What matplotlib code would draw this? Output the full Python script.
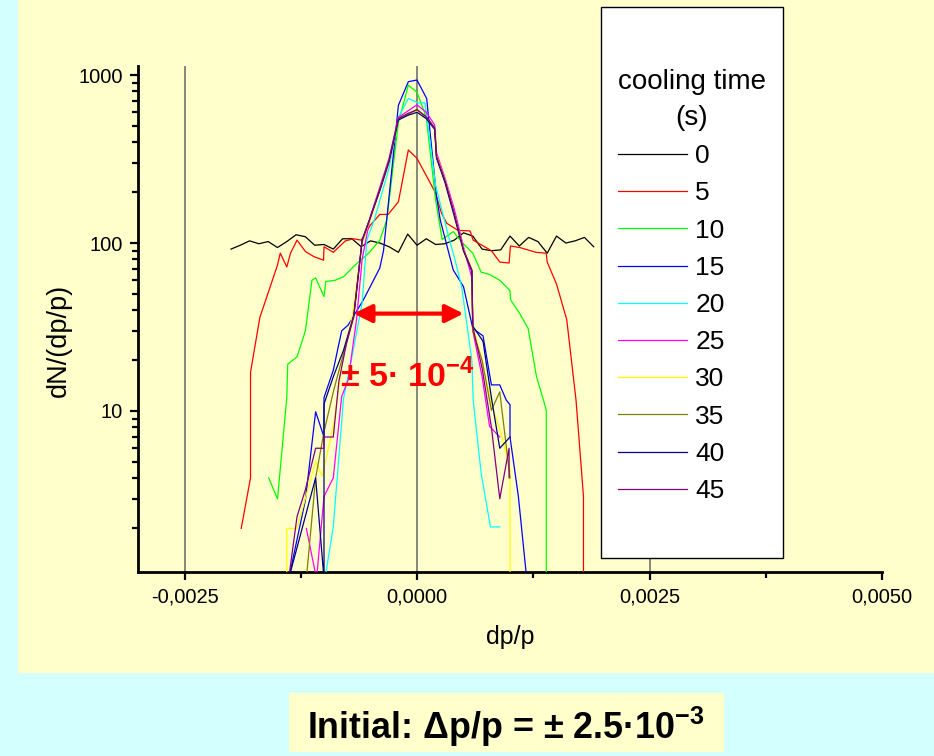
import numpy as np
import matplotlib
matplotlib.use('Agg')
import matplotlib.pyplot as plt
from matplotlib.patches import Rectangle
from matplotlib.ticker import LogLocator, NullFormatter

plt.rcParams['font.family'] = ['Liberation Sans', 'DejaVu Sans']
plt.rcParams['mathtext.fontset'] = 'custom'
plt.rcParams['mathtext.rm'] = 'Liberation Sans'
plt.rcParams['mathtext.bf'] = 'Liberation Sans:bold'

# cooling times (s) and line colours
cooling_times = [0, 5, 10, 15, 20, 25, 30, 35, 40, 45]
line_colors = ['black', '#ff0000', '#00ff00', '#0000ff', '#00ffff',
               '#ff00ff', '#ffff00', '#808000', '#000080', '#800080']

# momentum spread dp/p in units of 1e-4, and dN/(dp/p) for each cooling time
dp_0 = list(range(-20, 20))
dn_0 = [92, 97, 103, 99, 102, 94, 102, 112, 109, 97, 98, 92, 106, 106, 95, 103, 100, 95, 88, 113,
        97, 106, 98, 99, 104, 115, 110, 92, 90, 91, 110, 96, 108, 102, 87, 110, 100, 103, 108, 95]

dp_5 = [-18.9, -17.9, -17.9, -16.9, -15.0, -14.7, -14.0, -13.6, -12.9, -12.0, -11.1, -10.05, -10.0, -9.0,
        -7.7, -6.8, -6.0, -5.0, -4.0, -3.1, -2.0, -0.93, 0.0, 1.93, 2.65, 3.2, 4.4, 5.7, 6.04, 8.0,
        8.9, 9.9, 10.05, 11.05, 12.8, 13.9, 14.0, 15.0, 16.1, 17.1, 17.9, 17.9]
dn_5 = [2.0, 4.0, 17, 36, 74, 87, 72, 87, 104, 89, 83, 79, 95, 88,
        103, 106, 104, 128, 148, 148, 176, 358, 319, 202, 150, 131, 119, 118, 104, 90,
        77, 76, 96, 94, 88, 87, 77, 57, 35, 11.6, 3.1, 1.0]

dp_10 = [-15.95, -15.0, -14.0, -13.9, -12.9, -12.0, -11.3, -10.9, -10.0, -9.8, -8.8, -7.9, -6.65, -5.2,
         -4.0, -3.25, -2.0, -0.93, 0.0, 1.0, 2.0, 2.7, 3.9, 4.9, 6.0, 6.9, 7.8, 8.9, 10.0, 10.05,
         11.05, 11.95, 12.85, 13.6, 13.9, 13.9]
dn_10 = [4.0, 3.0, 12, 19, 21, 30, 60, 62, 48, 59, 60, 63, 74, 87,
         104, 137, 520, 870, 790, 560, 180, 105, 117, 100, 87, 67, 65, 60, 52, 46,
         38, 31, 16, 11.6, 10.1, 1.0]

dp_15 = [-13.8, -12.0, -10.9, -10.0, -10.0, -9.0, -8.1, -7.4, -5.75, -4.0, -3.6, -2.0, -0.93, 0.0,
         1.04, 2.1, 2.5, 3.9, 5.0, 6.0, 7.1, 8.0, 8.9, 9.6, 10.0, 10.0, 10.9, 11.8]
dn_15 = [1.0, 2.95, 9.9, 7.0, 12, 17.5, 30, 32.5, 46, 71, 90, 660, 913, 934,
         725, 190, 137, 69, 55, 31, 28, 14.3, 14.3, 11.6, 10.9, 7.0, 3.1, 1.0]

dp_20 = [-9.9, -9.0, -7.9, -7.2, -5.9, -5.4, -4.6, -3.0, -2.0, -0.93, 0.1, 0.86, 2.0, 3.5,
         4.1, 4.8, 5.9, 6.04, 6.9, 7.9, 8.9]
dn_20 = [1.0, 2.05, 11.9, 18.3, 44, 104, 137, 280, 560, 725, 683, 683, 220, 104,
         79, 55, 20, 11.6, 4.25, 2.04, 2.04]

dp_25 = [-11.9, -10.8, -10.0, -9.0, -8.1, -7.4, -6.5, -5.9, -5.0, -4.0, -3.0, -2.0, -1.0, 0.0,
         1.0, 1.9, 2.1, 3.0, 4.0, 5.0, 5.9, 6.0, 7.0, 7.8, 8.9]
dn_25 = [2.0, 1.0, 3.1, 4.0, 12.2, 15.3, 35, 80, 145, 215, 320, 560, 610, 665,
         600, 505, 345, 245, 160, 95, 62, 30, 16, 8.1, 7.0]

dp_30 = [-14.0, -14.0, -12.9, -10.9, -10.2, -9.0, -8.0, -6.9, -5.9, -5.0, -4.0, -3.0, -2.0, -1.0,
         0.0, 1.0, 1.9, 2.1, 3.0, 4.0, 5.0, 5.9, 6.0, 7.0, 8.0, 9.0, 10.0, 10.0]
dn_30 = [1.0, 2.0, 2.0, 5.0, 4.1, 8.1, 20, 38, 100, 140, 205, 300, 540, 590,
         610, 560, 480, 330, 240, 150, 92, 70, 32, 20, 11, 7.5, 4.5, 1.0]

dp_35 = [-11.9, -10.9, -10.0, -9.0, -7.9, -6.8, -5.9, -5.0, -4.0, -3.0, -2.0, -1.0, 0.0,
         1.0, 1.9, 2.1, 3.0, 4.0, 5.0, 5.9, 6.0, 7.0, 8.0, 8.9, 10.0]
dn_35 = [1.0, 4.0, 7.5, 13, 22, 36, 102, 142, 210, 312, 548, 580, 625,
         560, 485, 325, 235, 150, 90, 69, 30, 20, 10.1, 13.0, 4.0]

dp_40 = [-13.8, -10.9, -10.0, -10.0, -9.0, -7.9, -6.8, -5.9, -5.0, -4.0, -3.0, -2.0, -1.0, 0.0,
         1.0, 1.9, 2.1, 3.0, 4.0, 5.0, 5.9, 6.0, 7.1, 8.0, 8.9, 10.0]
dn_40 = [1.0, 4.0, 1.0, 11, 16, 23, 37, 104, 143, 205, 305, 540, 575, 600,
         550, 475, 320, 230, 145, 90, 68, 32, 26, 12, 6.0, 7.0]

dp_45 = [-13.8, -12.9, -12.0, -10.9, -10.0, -10.0, -9.0, -8.4, -7.6, -6.8, -5.9, -5.0, -4.0, -3.0,
         -2.0, -1.0, 0.0, 1.0, 1.9, 2.1, 3.0, 4.0, 5.0, 5.9, 6.0, 7.0, 8.0, 8.9, 9.9, 9.9]
dn_45 = [1.0, 2.35, 3.4, 6.0, 6.0, 7.0, 7.0, 15, 25, 37, 104, 143, 207, 311,
         551, 590, 621, 565, 484, 326, 237, 150, 91, 69, 31.7, 18, 8.0, 3.0, 6.0, 4.0]

dp_series = [dp_0, dp_5, dp_10, dp_15, dp_20, dp_25, dp_30, dp_35, dp_40, dp_45]
dn_series = [dn_0, dn_5, dn_10, dn_15, dn_20, dn_25, dn_30, dn_35, dn_40, dn_45]

# marked width of the cooled beam
width_left, width_right, width_level = -6.8e-4, 5.0e-4, 38

xtick_pos = [-0.0025, 0.0, 0.0025, 0.005]
xtick_labels = ['-0,0025', '0,0000', '0,0025', '0,0050']
ytick_pos = [10, 100, 1000]
ytick_labels = ['10', '100', '1000']

W, H = 934, 756
fig = plt.figure(figsize=(W / 100, H / 100), dpi=100, facecolor='#d4ffff')

# yellow slide panel
fig.add_artist(Rectangle((18 / W, 1 - 673 / H), 1 - 18 / W, 673 / H, transform=fig.transFigure,
                         facecolor='#ffffcc', edgecolor='none', zorder=-1))

ax = fig.add_axes([138 / W, 1 - 572 / H, 744 / W, 506 / H])
ax.patch.set_visible(False)

for xv in xtick_pos[:3]:
    ax.axvline(xv, color='#666666', lw=1.1, zorder=1)

lines = []
for t, c, dp, dn in zip(cooling_times, line_colors, dp_series, dn_series):
    ln, = ax.plot(np.array(dp) * 1e-4, dn, color=c, lw=0.9, zorder=3)
    lines.append(ln)

ax.set_yscale('log')
ax.set_xlim(-0.003, 0.005)
ax.set_ylim(1.1, 1132)

ax.set_xticks(xtick_pos)
ax.set_xticklabels(xtick_labels)
ax.set_xticks([-0.00125, 0.00125, 0.00375], minor=True)
ax.set_yticks(ytick_pos)
ax.set_yticklabels(ytick_labels)
ax.yaxis.set_minor_locator(LogLocator(base=10, subs=range(2, 10)))
ax.yaxis.set_minor_formatter(NullFormatter())

for side in ['top', 'right']:
    ax.spines[side].set_visible(False)
for side in ['left', 'bottom']:
    ax.spines[side].set_linewidth(2)
ax.tick_params(which='major', direction='out', length=6, width=1.6, labelsize=14.5, pad=5)
ax.tick_params(which='minor', direction='out', length=4, width=1.6)

ax.set_xlabel('dp/p', fontsize=18)
ax.set_ylabel('dN/(dp/p)', fontsize=19.5)
ax.xaxis.set_label_coords(0.5, -0.105)
ax.yaxis.set_label_coords(-0.089, 0.458)

# width arrow and its label
ax.annotate('', xy=(width_left, width_level), xytext=(width_right, width_level),
            arrowprops=dict(arrowstyle='<|-|>,head_length=0.6,head_width=0.3', color='#ff0000',
                            lw=3, mutation_scale=18, shrinkA=0, shrinkB=0), zorder=4)
ax.text(-8.26e-4, 13.9, '± 5· 10$^{\\mathbf{-4}}$', color='#ff0000', fontsize=24.5,
        fontweight='bold', ha='left', va='baseline', zorder=4)

# legend box
fig.add_artist(Rectangle((601 / W, 1 - 558 / H), 182 / W, 551 / H, transform=fig.transFigure,
                         facecolor='white', edgecolor='black', lw=1, zorder=4))
leg = fig.legend(lines, [str(t) for t in cooling_times], title='cooling time\n(s)',
                 loc='upper left', bbox_to_anchor=(618 / W, 1 - 69 / H), frameon=False,
                 fontsize=19, title_fontsize=20, handlelength=2.6, handletextpad=0.33,
                 labelspacing=0.5, alignment='left', borderpad=0, borderaxespad=0)
leg.get_title().set_multialignment('center')
leg.get_title().set_linespacing(1.5)
leg.set_zorder(5)

# initial spread box
fig.add_artist(Rectangle((289 / W, 1 - 752 / H), 435 / W, 59 / H, transform=fig.transFigure,
                         facecolor='#ffffcc', edgecolor='none', zorder=1))
fig.text(506 / W, 1 - 739 / H, 'Initial: Δp/p = ± 2.5·10$^{\\mathbf{-3}}$', ha='center',
         va='baseline', fontsize=25.8, fontweight='bold', zorder=2)

fig.savefig('out.png', dpi=100, facecolor=fig.get_facecolor())
